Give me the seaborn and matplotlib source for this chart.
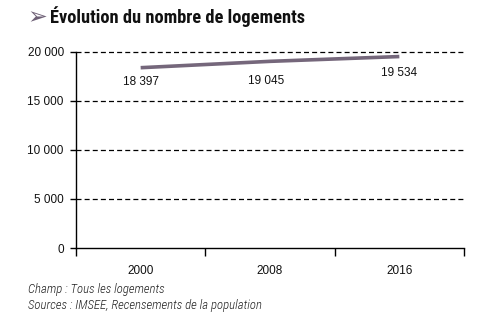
import matplotlib
matplotlib.use("Agg")
import matplotlib.pyplot as plt
import seaborn as sns
import pandas as pd
from matplotlib.ticker import FuncFormatter, FixedLocator

years = ["2000", "2008", "2016"]
logements = [18397, 19045, 19534]
y_ticks = [0, 5000, 10000, 15000, 20000]

sns.set_theme(style="white")
plt.rcParams["font.family"] = ["Liberation Sans", "DejaVu Sans"]

df = pd.DataFrame({"annee": years, "logements": logements})

fig = plt.figure(figsize=(4.98, 3.28), dpi=100)
ax = fig.add_axes([0.1526, 0.2439, 0.7791, 0.5976])

line_color = "#75677b"
sns.lineplot(data=df, x="annee", y="logements", ax=ax, color=line_color,
             linewidth=2.6, solid_capstyle="butt")

ax.set_xlim(-0.5, 2.5)
ax.set_ylim(0, 20000)
ax.set_xlabel("")
ax.set_ylabel("")

fmt = lambda v, p: f"{int(v):,}".replace(",", " ")
ax.yaxis.set_major_locator(FixedLocator(y_ticks))
ax.yaxis.set_major_formatter(FuncFormatter(fmt))
for v in y_ticks[1:]:
    ax.axhline(v, color="black", linestyle=(0, (4, 2.5)), linewidth=0.9, zorder=0,
               xmax=1.004, clip_on=False)

for s in ["top", "right"]:
    ax.spines[s].set_visible(False)
for s in ["left", "bottom"]:
    ax.spines[s].set_color("black")
    ax.spines[s].set_linewidth(1.0)

ax.tick_params(axis="y", which="major", left=True, length=4.3, width=1.0,
               color="black", labelsize=8.5, pad=4.5, labelcolor="#111111")
ax.set_xticks(range(len(years)))
ax.set_xticklabels(years)
ax.set_xticks([-0.5, 0.5, 1.5, 2.5], minor=True)
ax.tick_params(axis="x", which="major", bottom=False, labelsize=8.5, pad=6,
               labelcolor="#111111")
ax.tick_params(axis="x", which="minor", bottom=True, length=6, width=1.0,
               color="black", direction="out")

# value labels placed under each point (offsets in pixels)
label_offsets = [(0, -14), (-4, -20), (0, -16)]
for i, (v, off) in enumerate(zip(logements, label_offsets)):
    ax.annotate(fmt(v, None), (i, v), xytext=off,
                textcoords="offset pixels", ha="center", va="center",
                fontsize=8.5, color="#111111")

fig.text(0.054, 0.948, "➢", fontsize=17, color="#6e6076",
         family=["DejaVu Sans"], va="center", ha="left")
fig.text(0.1, 0.948, "Évolution du nombre de logements", fontsize=13.2,
         fontweight="bold", family=["Roboto Condensed", "DejaVu Sans"],
         va="center", ha="left", color="#111111")

foot_font = ["Roboto Condensed", "DejaVu Sans"]
fig.text(0.056, 0.116, "Champ : Tous les logements", fontsize=9.2,
         style="italic", fontweight="light", family=foot_font, va="center",
         color="#222222")
fig.text(0.056, 0.07, "Sources : IMSEE, Recensements de la population",
         fontsize=9.2, style="italic", fontweight="light", family=foot_font,
         va="center", color="#222222")

fig.savefig("out.png", dpi=100)
